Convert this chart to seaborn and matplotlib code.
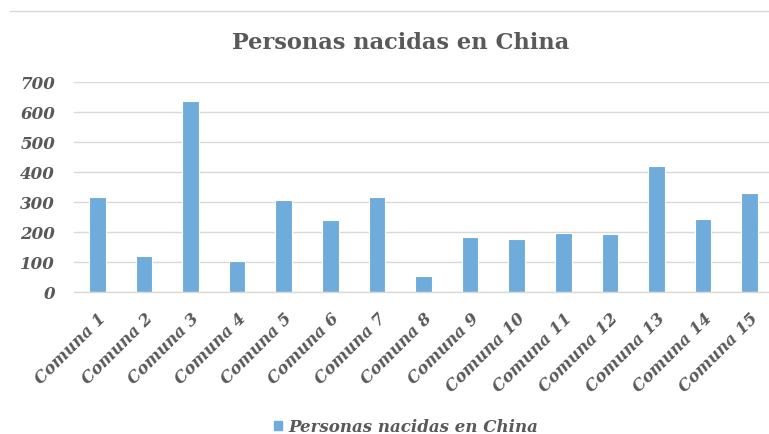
import matplotlib
matplotlib.use("Agg")
import matplotlib.pyplot as plt
import seaborn as sns
import pandas as pd
from matplotlib.lines import Line2D

categories = [f"Comuna {i}" for i in range(1, 16)]
values = [317, 122, 639, 103, 309, 242, 317, 54, 185, 178, 197, 193, 421, 245, 331]
series_name = "Personas nacidas en China"
title = "Personas nacidas en China"
yticks = [0, 100, 200, 300, 400, 500, 600, 700]

df = pd.DataFrame({"Comuna": categories, "Valor": values})

sns.set_theme(style="white")
plt.rcParams["font.family"] = ["DejaVu Serif"]

W, H = 769, 434
fig = plt.figure(figsize=(W / 100, H / 100), dpi=100)
fig.patch.set_facecolor("white")
x0, x1 = 74, 773
ybot, ytop = 292.3, 82.3
ax = fig.add_axes([x0 / W, 1 - ybot / H, (x1 - x0) / W, (ybot - ytop) / H])

color = "#6FACDC"
sns.barplot(data=df, x="Comuna", y="Valor", ax=ax, color=color, width=0.36,
            edgecolor="white", linewidth=0.8, saturation=1)

ax.set_ylim(0, 700)
ax.set_xlim(-0.5, len(categories) - 0.5)
ax.set_yticks(yticks)
ax.set_xlabel("")
ax.set_ylabel("")
ax.grid(axis="y", color="#D9D9D9", linewidth=1)
ax.set_axisbelow(True)
for s in ["top", "right", "left"]:
    ax.spines[s].set_visible(False)
ax.spines["bottom"].set_color("#D9D9D9")
ax.spines["bottom"].set_linewidth(1)

txt_color = "#595959"
ax.set_yticklabels([str(v) for v in yticks], fontsize=12, fontweight="bold",
                   fontstyle="italic", color=txt_color)
ax.tick_params(axis="y", length=0, pad=13.5)
ax.set_xticks(range(len(categories)))
ax.set_xticklabels(categories, rotation=45, ha="right", rotation_mode="anchor",
                   fontsize=11.8, fontweight="bold", fontstyle="italic", color=txt_color)
ax.tick_params(axis="x", length=0, pad=13)
ax.set_xticks([i - 0.5 for i in range(len(categories) + 1)], minor=True)
ax.tick_params(axis="x", which="minor", length=5, color="#D9D9D9", width=1)

fig.text(401 / W, 1 - 43 / H, title, ha="center", va="center", fontsize=16.2,
         fontweight="bold", color=txt_color)

fig.add_artist(Line2D([10 / W, 1.0], [1 - 11 / H, 1 - 11 / H], color="#D9D9D9", linewidth=1))

handle = plt.Rectangle((0, 0), 1, 1, color=color)
fig.legend([handle], [series_name], loc="center", bbox_to_anchor=(0.528, 1 - 427 / H),
           frameon=False, handlelength=0.5, handleheight=0.5, handletextpad=0.4,
           prop={"size": 12, "weight": "bold", "style": "italic"}, labelcolor=txt_color)

fig.savefig("out.png", dpi=100)
